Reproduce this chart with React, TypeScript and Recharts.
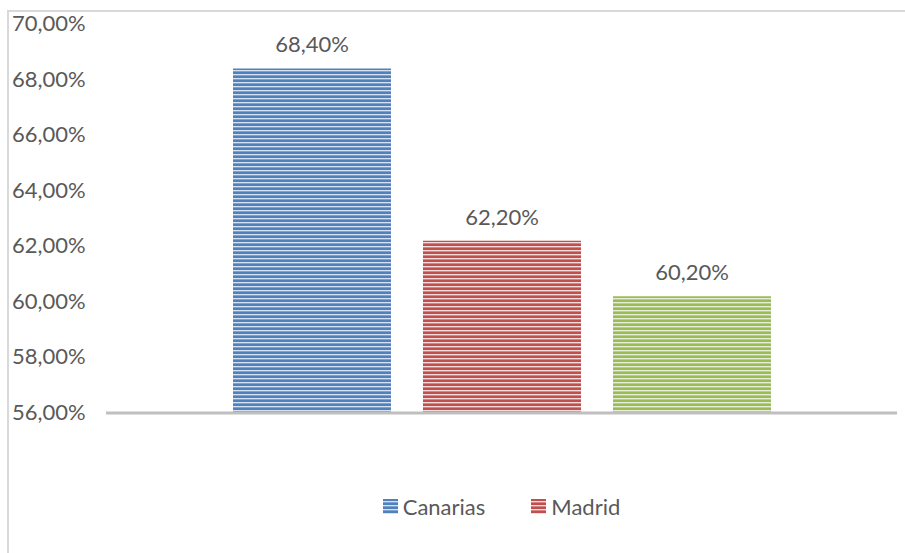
import { BarChart, Bar, XAxis, YAxis, LabelList, ReferenceLine } from 'recharts';

const categories = [''];
const seriesNames = ['Canarias', 'Madrid', 'Otros'];
const seriesValues = [68.4, 62.2, 60.2];
const yTicks = [56, 58, 60, 62, 64, 66, 68, 70];
const legendNames = ['Canarias', 'Madrid'];

const colors: Record<string, { dark: string; mid: string; light: string }> = {
  Canarias: { dark: '#4F81BD', mid: '#7EA1CF', light: '#D6E2F1' },
  Madrid: { dark: '#C0504D', mid: '#D58583', light: '#F3DCDB' },
  Otros: { dark: '#9BBB59', mid: '#B8CF8A', light: '#E6EFD6' },
};

const data = categories.map((name) => {
  const row: Record<string, any> = { name };
  seriesNames.forEach((s, i) => {
    row[s] = seriesValues[i];
  });
  return row;
});

const FONT = 'Lato, "Open Sans", sans-serif';
const TEXT = '#595959';
const FS = 22;

const fmt = (v: number) => v.toFixed(2).replace('.', ',') + '%';

const YTick = ({ y, payload }: any) => (
  <text x={12} y={y} dy={7} textAnchor="start" fill={TEXT} fontSize={FS} fontFamily={FONT}>
    {fmt(payload.value)}
  </text>
);

export default function App() {
  return (
    <div style={{ position: 'absolute', left: 0, top: 0, width: 905, height: 553, background: '#fff', fontFamily: FONT }}>
      <svg width={0} height={0} style={{ position: 'absolute' }}>
        <defs>
          {seriesNames.map((s) => (
            <pattern key={s} id={`stripe-${s}`} width={8} height={4} patternUnits="userSpaceOnUse">
              <rect x={0} y={0} width={8} height={2} fill={colors[s].dark} />
              <rect x={0} y={2} width={8} height={1} fill={colors[s].light} />
              <rect x={0} y={3} width={8} height={1} fill={colors[s].mid} />
            </pattern>
          ))}
        </defs>
      </svg>
      {/* chart frame, cut off at right and bottom */}
      <div style={{ position: 'absolute', left: 7, top: 10, width: 898, height: 543, borderLeft: '2px solid #D9D9D9', borderTop: '2px solid #D9D9D9' }} />
      <div style={{ position: 'absolute', left: 0, top: 0 }}>
        <BarChart
          width={905}
          height={553}
          data={data}
          margin={{ top: 24, right: 8, left: 0, bottom: 140 }}
          barSize={158}
          barGap={32}
        >
          <XAxis dataKey="name" hide />
          <YAxis
            width={106}
            domain={[56, 70]}
            ticks={yTicks}
            interval={0}
            allowDataOverflow
            axisLine={false}
            tickLine={false}
            tick={<YTick />}
          />
          {seriesNames.map((s) => (
            <Bar key={s} dataKey={s} fill={`url(#stripe-${s})`} isAnimationActive={false}>
              <LabelList
                dataKey={s}
                position="top"
                offset={16}
                formatter={(v: any) => fmt(Number(v))}
                style={{ fill: TEXT, fontSize: FS, fontFamily: FONT }}
              />
            </Bar>
          ))}
          <ReferenceLine y={56} stroke="#BFBFBF" strokeWidth={3} ifOverflow="visible" />
        </BarChart>
      </div>
      <div style={{ position: 'absolute', left: 106, top: 493, width: 791, display: 'flex', justifyContent: 'center', gap: 46 }}>
        {legendNames.map((s) => (
          <div key={s} style={{ display: 'flex', alignItems: 'center', color: TEXT, fontSize: FS }}>
            <svg width={15} height={15} style={{ marginRight: 5 }}>
              <rect x={0} y={0} width={15} height={15} fill={`url(#stripe-${s})`} />
            </svg>
            {s}
          </div>
        ))}
      </div>
    </div>
  );
}
